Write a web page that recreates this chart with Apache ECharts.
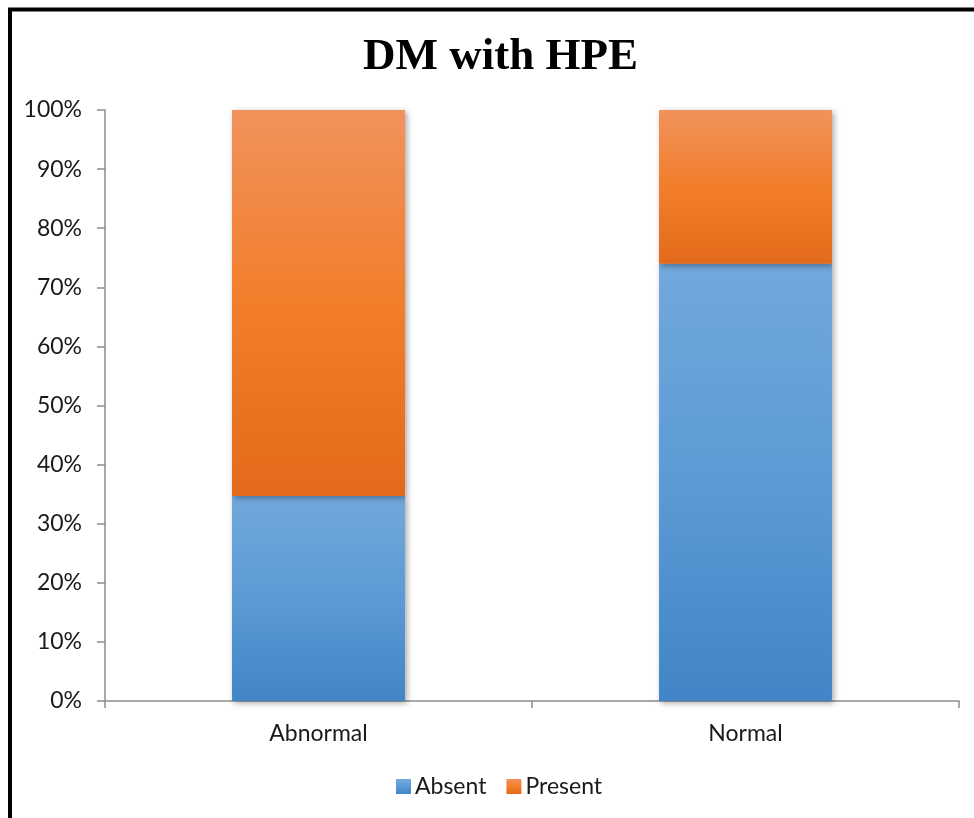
<!DOCTYPE html>
<html>
<head>
<meta charset="utf-8">
<script src="https://cdn.jsdelivr.net/npm/echarts@6/dist/echarts.min.js"></script>
<style>
  html, body { margin: 0; padding: 0; background: #fff; }
  #chart { width: 974px; height: 818px; }
</style>
</head>
<body>
<div id="chart"></div>
<script>
// Share of HPE status per DM group (percent)
const categories = ['Abnormal', 'Normal'];
const absentValues = [34.7, 74.0];
const presentValues = [65.3, 26.0];
const yTicks = [0, 10, 20, 30, 40, 50, 60, 70, 80, 90, 100];

const labelFont = 'Lato, "Open Sans", sans-serif';

function vGrad(top, mid, bottom) {
  return new echarts.graphic.LinearGradient(0, 0, 0, 1, [
    { offset: 0, color: top },
    { offset: 0.5, color: mid },
    { offset: 1, color: bottom }
  ]);
}

const barShadow = {
  shadowBlur: 6,
  shadowColor: 'rgba(0,0,0,0.35)',
  shadowOffsetX: 2,
  shadowOffsetY: 2
};

const chart = echarts.init(document.getElementById('chart'), null, { renderer: 'canvas' });
chart.setOption({
  animation: false,
  backgroundColor: '#ffffff',
  title: {
    text: 'DM with HPE',
    left: 358,
    top: 30,
    textStyle: {
      fontFamily: '"Liberation Serif", "DejaVu Serif", serif',
      fontWeight: 'bold',
      fontSize: 45,
      color: '#000'
    }
  },
  grid: { left: 105, right: 15, top: 110, bottom: 117, containLabel: false },
  legend: {
    bottom: 15,
    left: 391,
    itemWidth: 15,
    itemHeight: 15,
    itemGap: 20,
    icon: 'rect',
    textStyle: { fontFamily: labelFont, fontSize: 23, color: '#1a1a1a', padding: [0, 0, 0, -1] },
    data: ['Absent', 'Present']
  },
  xAxis: {
    type: 'category',
    data: categories,
    axisLine: { lineStyle: { color: '#8c8c8c', width: 1.5 } },
    axisTick: { show: true, length: 7, lineStyle: { color: '#8c8c8c', width: 1.5 } },
    axisLabel: { fontFamily: labelFont, fontSize: 23, color: '#1a1a1a', margin: 21 }
  },
  yAxis: {
    type: 'value',
    min: yTicks[0],
    max: yTicks[yTicks.length - 1],
    interval: 10,
    axisLine: { show: true, lineStyle: { color: '#8c8c8c', width: 1.5 } },
    axisTick: { show: true, length: 8, lineStyle: { color: '#8c8c8c', width: 1.5 } },
    splitLine: { show: false },
    axisLabel: {
      fontFamily: labelFont,
      fontSize: 23,
      color: '#1a1a1a',
      margin: 23,
      formatter: v => v + '%'
    }
  },
  series: [
    {
      name: 'Absent',
      type: 'bar',
      stack: 'total',
      barWidth: '40.5%',
      data: absentValues,
      itemStyle: Object.assign({ color: vGrad('#72a8dd', '#5b9bd5', '#4185c6') }, barShadow)
    },
    {
      name: 'Present',
      type: 'bar',
      stack: 'total',
      barWidth: '40.5%',
      data: presentValues,
      itemStyle: Object.assign({ color: vGrad('#f1925c', '#f27e2b', '#e36a1a') }, barShadow)
    }
  ],
  graphic: [
    {
      type: 'polyline',
      silent: true,
      z: 100,
      shape: { points: [[10, 818], [10, 9.5], [974, 9.5]] },
      style: { stroke: '#000', lineWidth: 4, fill: null }
    }
  ]
});
</script>
</body>
</html>
